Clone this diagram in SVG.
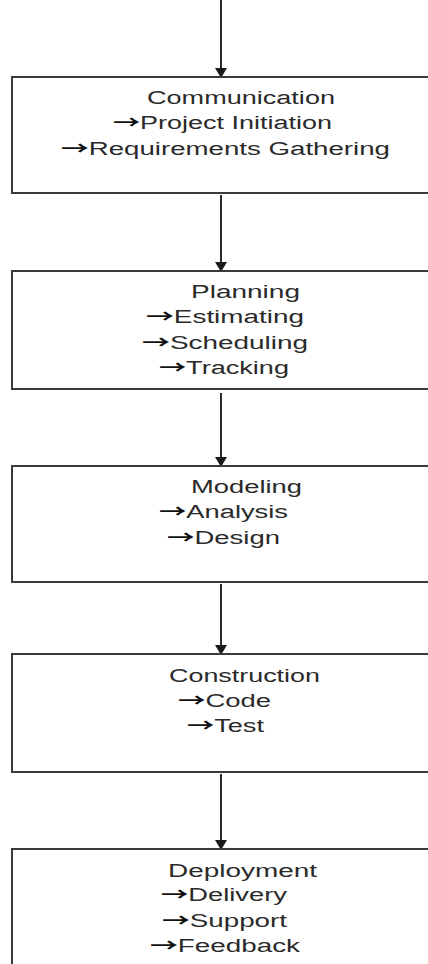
<svg xmlns="http://www.w3.org/2000/svg" width="428" height="964" viewBox="0 0 428 964">
  <style>
    .box { fill: #ffffff; stroke: #3a3a3a; stroke-width: 2; }
    .lbl { font-family: "Liberation Sans", Arial, sans-serif; font-size: 18px; fill: #2a2a2a; }
    .ar { font-family: "Noto Sans CJK SC", sans-serif; font-weight: bold; fill: #111; }
    .flow { stroke: #2a2a2a; stroke-width: 2; fill: none; marker-end: url(#head); }
  </style>
  <defs>
    <marker id="head" markerUnits="userSpaceOnUse" markerWidth="10" markerHeight="12" refX="10" refY="6" orient="auto" viewBox="0 0 10 12">
      <path d="M0,0 L10,6 L0,12 Z" fill="#1a1a1a"/>
    </marker>
  </defs>
  <rect width="428" height="964" fill="#ffffff"/>

  <g id="connectors">
    <line class="flow" x1="221" y1="0" x2="221" y2="78"/>
    <line class="flow" x1="221" y1="195" x2="221" y2="272"/>
    <line class="flow" x1="221" y1="393" x2="221" y2="467"/>
    <line class="flow" x1="221" y1="584" x2="221" y2="655"/>
    <line class="flow" x1="221" y1="774" x2="221" y2="850"/>
  </g>

  <g id="communication">
    <rect class="box" x="12" y="77" width="430" height="116"/>
    <text class="lbl" x="147" y="104" textLength="188" lengthAdjust="spacingAndGlyphs">Communication</text>
    <text class="lbl" x="113" y="129" textLength="219" lengthAdjust="spacingAndGlyphs"><tspan class="ar">→</tspan>Project Initiation</text>
    <text class="lbl" x="61" y="155" textLength="329" lengthAdjust="spacingAndGlyphs"><tspan class="ar">→</tspan>Requirements Gathering</text>
  </g>

  <g id="planning">
    <rect class="box" x="12" y="271" width="430" height="118"/>
    <text class="lbl" x="191" y="298" textLength="109" lengthAdjust="spacingAndGlyphs">Planning</text>
    <text class="lbl" x="146" y="323" textLength="158" lengthAdjust="spacingAndGlyphs"><tspan class="ar">→</tspan>Estimating</text>
    <text class="lbl" x="142" y="349" textLength="166" lengthAdjust="spacingAndGlyphs"><tspan class="ar">→</tspan>Scheduling</text>
    <text class="lbl" x="159" y="374" textLength="130" lengthAdjust="spacingAndGlyphs"><tspan class="ar">→</tspan>Tracking</text>
  </g>

  <g id="modeling">
    <rect class="box" x="12" y="466" width="430" height="116"/>
    <text class="lbl" x="191" y="493" textLength="111" lengthAdjust="spacingAndGlyphs">Modeling</text>
    <text class="lbl" x="159" y="518" textLength="129" lengthAdjust="spacingAndGlyphs"><tspan class="ar">→</tspan>Analysis</text>
    <text class="lbl" x="167" y="544" textLength="113" lengthAdjust="spacingAndGlyphs"><tspan class="ar">→</tspan>Design</text>
  </g>

  <g id="construction">
    <rect class="box" x="12" y="654" width="430" height="118"/>
    <text class="lbl" x="169" y="682" textLength="151" lengthAdjust="spacingAndGlyphs">Construction</text>
    <text class="lbl" x="178" y="707" textLength="93" lengthAdjust="spacingAndGlyphs"><tspan class="ar">→</tspan>Code</text>
    <text class="lbl" x="187" y="732" textLength="77" lengthAdjust="spacingAndGlyphs"><tspan class="ar">→</tspan>Test</text>
  </g>

  <g id="deployment">
    <rect class="box" x="12" y="849" width="430" height="130"/>
    <text class="lbl" x="168" y="877" textLength="149" lengthAdjust="spacingAndGlyphs">Deployment</text>
    <text class="lbl" x="161" y="901" textLength="126" lengthAdjust="spacingAndGlyphs"><tspan class="ar">→</tspan>Delivery</text>
    <text class="lbl" x="162" y="927" textLength="125" lengthAdjust="spacingAndGlyphs"><tspan class="ar">→</tspan>Support</text>
    <text class="lbl" x="150" y="952" textLength="150" lengthAdjust="spacingAndGlyphs"><tspan class="ar">→</tspan>Feedback</text>
  </g>
</svg>
